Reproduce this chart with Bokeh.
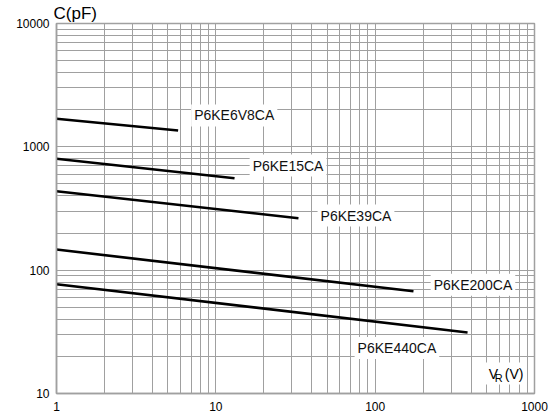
from bokeh.plotting import figure
from bokeh.models import Label, FixedTicker, CustomJSTickFormatter, ColumnDataSource
from bokeh.embed import file_html
from bokeh.resources import INLINE

# ---- data ----
series_names = ["P6KE6V8CA", "P6KE15CA", "P6KE39CA", "P6KE200CA", "P6KE440CA"]
vr_6v8 = [1, 5.8]
c_6v8 = [1690, 1355]
vr_15 = [1, 13.1]
c_15 = [800, 556]
vr_39 = [1, 33]
c_39 = [436, 264]
vr_200 = [1, 174]
c_200 = [147, 67.4]
vr_440 = [1, 380]
c_440 = [77, 31.2]

label_x = [7.0, 16.3, 43.5, 223, 74.3]
label_y = [1795, 705, 277, 76, 23.4]

x_ticks = [1, 10, 100, 1000]
y_ticks = [10, 100, 1000, 10000]
x_minor = [m * d for d in [1, 10, 100] for m in range(2, 10)]
y_minor = [m * d for d in [10, 100, 1000] for m in range(2, 10)]

FONT = "Liberation Sans"
GRID = "#a0a0a0"

p = figure(width=560, height=414, x_axis_type="log", y_axis_type="log",
           x_range=(1, 1000), y_range=(10, 10000),
           output_backend="svg", toolbar_location=None,
           min_border_left=56, min_border_right=26, min_border_top=23,
           min_border_bottom=21, title="C(pF)")
p.title.text_font = FONT
p.title.text_font_size = "17px"
p.title.text_font_style = "normal"
p.title.align = "left"
p.title.offset = -3
p.title.standoff = 1
p.title.text_color = "black"

p.background_fill_color = "white"
p.border_fill_color = "white"
p.outline_line_color = GRID
p.outline_line_width = 1.5

p.xaxis.ticker = FixedTicker(ticks=x_ticks, minor_ticks=x_minor)
p.yaxis.ticker = FixedTicker(ticks=y_ticks, minor_ticks=y_minor)
fmt = "return tick.toFixed(0);"
p.xaxis.formatter = CustomJSTickFormatter(code=fmt)
p.yaxis.formatter = CustomJSTickFormatter(code=fmt)
for ax in (p.xaxis, p.yaxis):
    ax.major_tick_out = 0
    ax.major_tick_in = 0
    ax.minor_tick_out = 0
    ax.minor_tick_in = 0
    ax.axis_line_color = GRID
    ax.axis_line_width = 1.5
    ax.major_label_text_font = FONT
    ax.major_label_text_font_size = "12px"
    ax.major_label_text_color = "black"
p.xaxis.major_label_standoff = 8
p.yaxis.major_label_standoff = 7

for g in (p.xgrid, p.ygrid):
    g.grid_line_color = GRID
    g.grid_line_width = 1
    g.grid_line_alpha = 1
    g.minor_grid_line_color = GRID
    g.minor_grid_line_width = 1

series = [(vr_6v8, c_6v8), (vr_15, c_15), (vr_39, c_39), (vr_200, c_200), (vr_440, c_440)]
for name, (xs, ys) in zip(series_names, series):
    src = ColumnDataSource(dict(x=xs, y=ys))
    p.line("x", "y", source=src, line_color="black", line_width=2.6)

for name, lx, ly in zip(series_names, label_x, label_y):
    p.add_layout(Label(x=lx, y=ly, text=name, text_font=FONT, text_font_size="14px",
                       text_align="left", text_baseline="middle", text_color="#111111",
                       background_fill_color="white", padding=3))

# x axis title
vx, vy = 495, 14.5
p.add_layout(Label(x=vx, y=vy, text="V", text_font=FONT, text_font_size="14px",
                   text_align="left", text_baseline="middle", text_color="black",
                   background_fill_color="white", padding=3))
p.add_layout(Label(x=vx, y=vy, text="(V)", text_font=FONT, text_font_size="14px",
                   text_align="left", text_baseline="middle", text_color="black",
                   x_offset=16, background_fill_color="white", padding=3))
p.add_layout(Label(x=vx, y=vy, text="R", text_font=FONT, text_font_size="11px",
                   text_align="left", text_baseline="middle", text_color="black",
                   x_offset=9, y_offset=-4))

open("out.html", "w").write(file_html(p, INLINE))
